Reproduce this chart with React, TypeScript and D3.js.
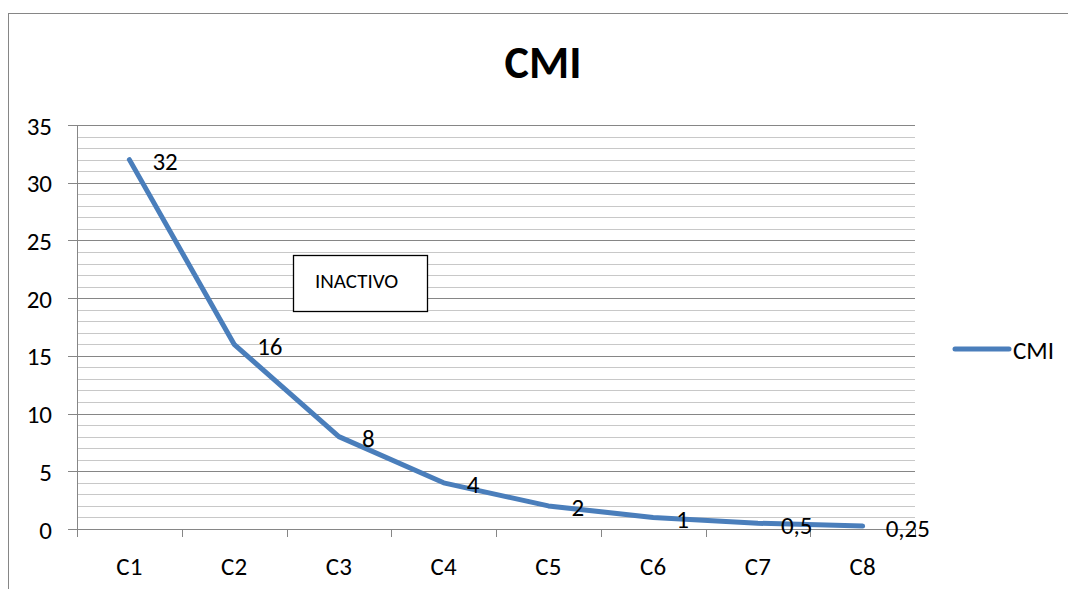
import React from "react";
import * as d3 from "d3";

const categories = ["C1", "C2", "C3", "C4", "C5", "C6", "C7", "C8"];
const values = [32, 16, 8, 4, 2, 1, 0.5, 0.25];
const valueLabels = ["32", "16", "8", "4", "2", "1", "0,5", "0,25"];
const yTicks = [0, 5, 10, 15, 20, 25, 30, 35];
const seriesName = "CMI";
const title = "CMI";
const annotation = "INACTIVO";

const W = 1068;
const H = 589;
const FONT = "Carlito, Calibri, 'Open Sans', 'Noto Sans', sans-serif";
const FS = 25;

export default function App() {
  const left = 77, right = 915, top = 125, bottom = 529;
  const x = d3.scaleBand<string>().domain(categories).range([left, right]).padding(0);
  const y = d3.scaleLinear().domain([0, 35]).range([bottom, top]);
  const line = d3
    .line<number>()
    .x((_, i) => (x(categories[i]) as number) + x.bandwidth() / 2)
    .y((d) => y(d));
  const minor = d3.range(0, 36, 1).filter((v) => v % 5 !== 0);
  const blue = "#4a7ebb";
  return (
    <svg width={W} height={H} style={{ position: "absolute", left: 0, top: 0, background: "#fff" }} fontFamily={FONT}>
      <rect x={8.5} y={13.5} width={1080} height={600} fill="#fff" stroke="#868686" strokeWidth={1} />
      <text x={543} y={78} textAnchor="middle" fontSize={46} fontWeight="bold" fill="#000">{title}</text>
      {minor.map((v) => (
        <line key={"m" + v} x1={left} x2={right} y1={Math.round(y(v)) + 0.5} y2={Math.round(y(v)) + 0.5} stroke="#c8c8c8" strokeWidth={1} />
      ))}
      {yTicks.map((v) => (
        <g key={"t" + v}>
          <line x1={68} x2={right} y1={Math.round(y(v)) + 0.5} y2={Math.round(y(v)) + 0.5} stroke="#868686" strokeWidth={1} />
          <text x={52} y={y(v) + 1} textAnchor="end" dominantBaseline="central" fontSize={FS} fill="#000">{v}</text>
        </g>
      ))}
      <line x1={left + 0.5} x2={left + 0.5} y1={top} y2={bottom + 8} stroke="#868686" strokeWidth={1} />
      {categories.map((c, i) => (
        <g key={c}>
          <line x1={Math.round((x(c) as number) + x.bandwidth()) + 0.5} x2={Math.round((x(c) as number) + x.bandwidth()) + 0.5} y1={bottom} y2={bottom + 8} stroke="#868686" strokeWidth={1} />
          <text x={(x(c) as number) + x.bandwidth() / 2} y={566} textAnchor="middle" dominantBaseline="central" fontSize={FS} fill="#000">{c}</text>
        </g>
      ))}
      <rect x={293.5} y={255.5} width={134} height={56} fill="#fff" stroke="#000" strokeWidth={1.3} />
      <text x={315} y={281} dominantBaseline="central" fontSize={21} fill="#000">{annotation}</text>
      <path d={line(values) || ""} fill="none" stroke={blue} strokeWidth={5} strokeLinejoin="round" strokeLinecap="round" />
      {values.map((v, i) => (
        <text key={"l" + i} x={(x(categories[i]) as number) + x.bandwidth() / 2 + 23} y={y(v) + 2} dominantBaseline="central" fontSize={FS} fill="#000">{valueLabels[i]}</text>
      ))}
      <line x1={955} x2={1009} y1={349} y2={349} stroke={blue} strokeWidth={5} strokeLinecap="round" />
      <text x={1013} y={350} dominantBaseline="central" fontSize={FS} fill="#000">{seriesName}</text>
    </svg>
  );
}
